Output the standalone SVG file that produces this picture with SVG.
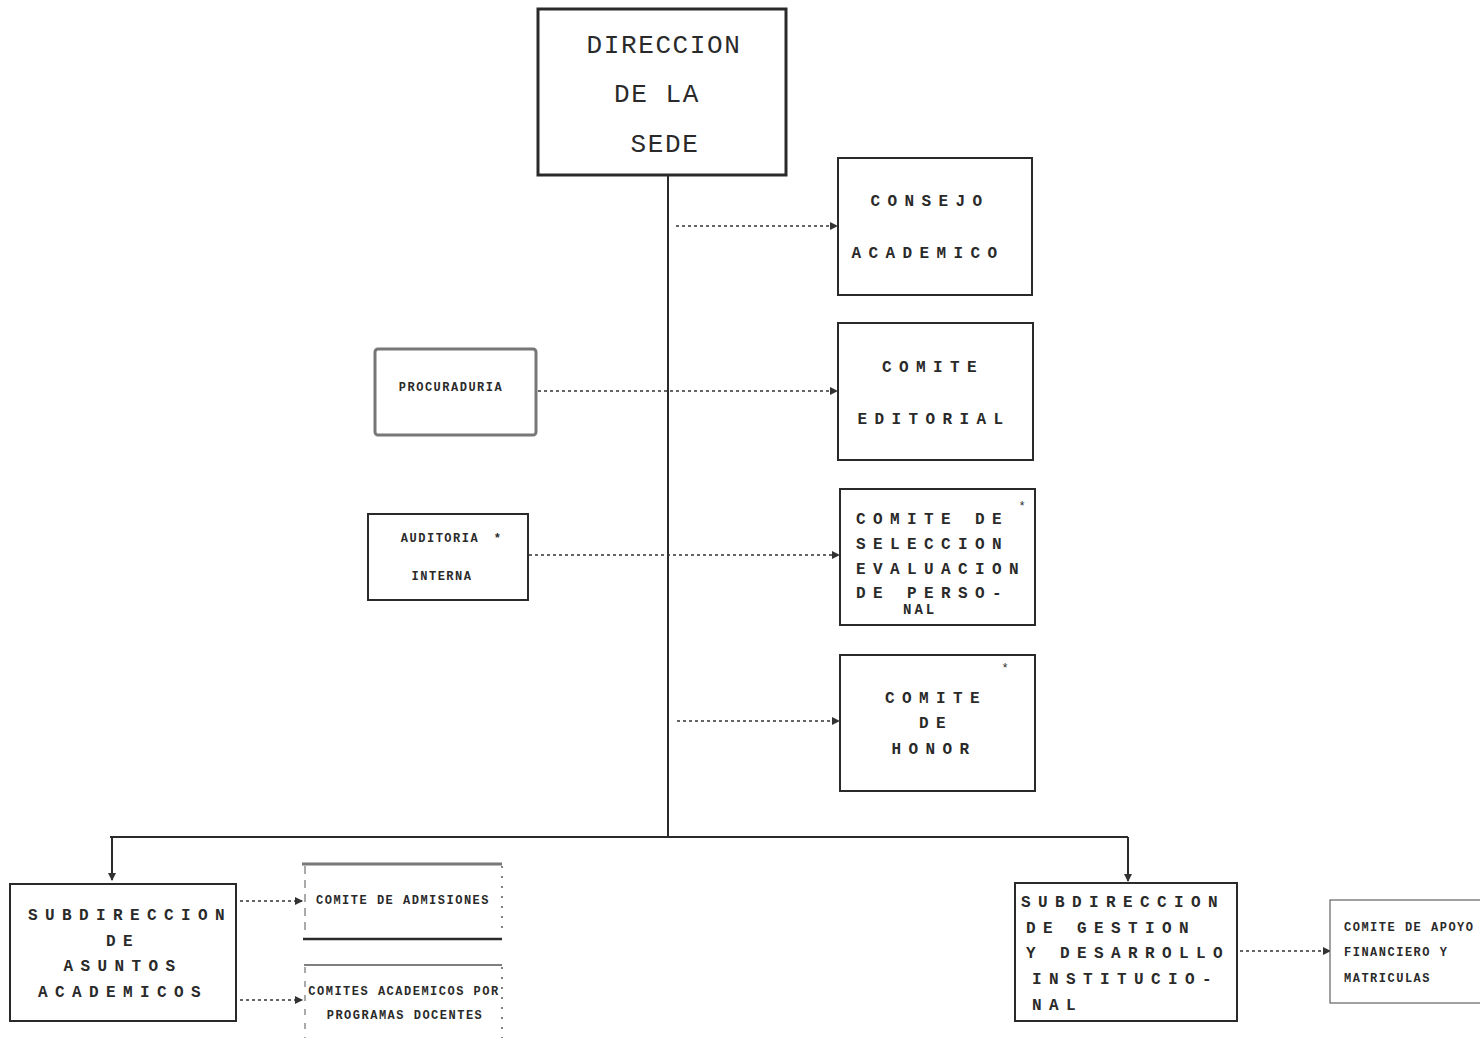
<svg xmlns="http://www.w3.org/2000/svg" width="1480" height="1038" viewBox="0 0 1480 1038">
<defs>
<marker id="ah" markerWidth="8" markerHeight="8" refX="7" refY="4" orient="auto" markerUnits="userSpaceOnUse">
<path d="M0,0 L8,4 L0,8 Z" fill="#333"/>
</marker>
<style>
.box{fill:#fff;stroke:#2a2a2a;stroke-width:2}
.thick{stroke-width:3}
.t{font-family:"Liberation Mono","DejaVu Sans Mono",monospace;fill:#2a2a2a;text-anchor:middle}
.s{text-anchor:start}
.big{font-size:26px;letter-spacing:1.6px}
.sp{font-size:16px;letter-spacing:7.4px;font-weight:bold}
.sm{font-size:12px;font-weight:bold;letter-spacing:1.5px}
.dot{stroke:#333;stroke-width:1.5;stroke-dasharray:3,3;fill:none}
.solid{stroke:#2a2a2a;stroke-width:2;fill:none}
</style>
</defs>
<rect width="1480" height="1038" fill="#fff"/>

<g id="connectors">
<line class="solid" x1="668" y1="175" x2="668" y2="837"/>
<line class="solid" x1="110" y1="837" x2="1128" y2="837" stroke-width="3.5"/>
<line class="solid" x1="112" y1="837" x2="112" y2="880" marker-end="url(#ah)"/>
<line class="solid" x1="1128" y1="837" x2="1128" y2="881" marker-end="url(#ah)"/>
<line class="dot" x1="676" y1="226" x2="837" y2="226" marker-end="url(#ah)"/>
<line class="dot" x1="538" y1="391" x2="837" y2="391" marker-end="url(#ah)"/>
<line class="dot" x1="529" y1="555" x2="839" y2="555" marker-end="url(#ah)"/>
<line class="dot" x1="677" y1="721" x2="839" y2="721" marker-end="url(#ah)"/>
<line class="dot" x1="240" y1="901" x2="302" y2="901" marker-end="url(#ah)"/>
<line class="dot" x1="240" y1="1000" x2="302" y2="1000" marker-end="url(#ah)"/>
<line class="dot" x1="1240" y1="951" x2="1330" y2="951" marker-end="url(#ah)"/>
</g>

<g id="direccion">
<rect class="box thick" x="538" y="9" width="248" height="166"/>
<text class="t big" x="664" y="53">DIRECCION</text>
<text class="t big" x="657" y="102">DE LA</text>
<text class="t big" x="665" y="152">SEDE</text>
</g>

<g id="consejo">
<rect class="box" x="838" y="158" width="194" height="137"/>
<text class="t sp" x="930" y="206">CONSEJO</text>
<text class="t sp" x="928" y="258">ACADEMICO</text>
</g>

<g id="editorial">
<rect class="box" x="838" y="323" width="195" height="137"/>
<text class="t sp" x="933" y="372">COMITE</text>
<text class="t sp" x="934" y="424">EDITORIAL</text>
</g>

<g id="procuraduria">
<rect x="375" y="349" width="161" height="86" rx="3" fill="#fff" stroke="#777" stroke-width="3"/>
<text class="t sm" x="451" y="391">PROCURADURIA</text>
</g>

<g id="auditoria">
<rect class="box" x="368" y="514" width="160" height="86"/>
<text class="t sm" x="440" y="542">AUDITORIA</text>
<text class="t sm" x="498" y="542">*</text>
<text class="t sm" x="442" y="580">INTERNA</text>
</g>

<g id="seleccion">
<rect class="box" x="840" y="489" width="195" height="136"/>
<text class="t sp s" x="856" y="524">COMITE DE</text>
<text class="t sp s" x="856" y="549">SELECCION</text>
<text class="t sp s" x="856" y="574">EVALUACION</text>
<text class="t sp s" x="856" y="598">DE PERSO-</text>
<text class="t s" x="903" y="614" font-size="14" letter-spacing="3" font-weight="bold">NAL</text>
<text class="t" x="1022" y="510" font-size="12">*</text>
</g>

<g id="honor">
<rect class="box" x="840" y="655" width="195" height="136"/>
<text class="t sp" x="936" y="703">COMITE</text>
<text class="t sp" x="936" y="728">DE</text>
<text class="t sp" x="934" y="754">HONOR</text>
<text class="t" x="1005" y="672" font-size="12">*</text>
</g>

<g id="sub-asuntos">
<rect class="box" x="10" y="884" width="226" height="137"/>
<text class="t sp s" x="28" y="920">SUBDIRECCION</text>
<text class="t sp" x="123" y="946">DE</text>
<text class="t sp" x="123" y="971">ASUNTOS</text>
<text class="t sp" x="123" y="997">ACADEMICOS</text>
</g>

<g id="admisiones">
<line x1="302" y1="864" x2="502" y2="864" stroke="#777" stroke-width="3"/>
<line x1="303" y1="939" x2="502" y2="939" stroke="#2a2a2a" stroke-width="2.5"/>
<line x1="305" y1="866" x2="305" y2="930" stroke="#555" stroke-width="1" stroke-dasharray="8,6"/>
<line x1="502" y1="866" x2="502" y2="935" stroke="#555" stroke-width="1.5" stroke-dasharray="2,8"/>
<text class="t sm" x="403" y="904">COMITE DE ADMISIONES</text>
</g>

<g id="comites-academicos">
<line x1="304" y1="965" x2="502" y2="965" stroke="#555" stroke-width="1.5"/>
<line x1="305" y1="967" x2="305" y2="1038" stroke="#555" stroke-width="1" stroke-dasharray="6,8"/>
<line x1="502" y1="967" x2="502" y2="1038" stroke="#555" stroke-width="1.5" stroke-dasharray="2,8"/>
<text class="t sm" x="404" y="995" letter-spacing="1.2">COMITES ACADEMICOS POR</text>
<text class="t sm" x="405" y="1019">PROGRAMAS DOCENTES</text>
</g>

<g id="sub-gestion">
<rect class="box" x="1015" y="883" width="222" height="138"/>
<text class="t sp s" x="1021" y="907">SUBDIRECCION</text>
<text class="t sp s" x="1026" y="933">DE GESTION</text>
<text class="t sp s" x="1026" y="958">Y DESARROLLO</text>
<text class="t sp s" x="1032" y="984">INSTITUCIO-</text>
<text class="t sp s" x="1032" y="1010">NAL</text>
</g>

<g id="apoyo">
<rect x="1330" y="900" width="160" height="103" fill="#fff" stroke="#444" stroke-width="1"/>
<text class="t sm s" x="1344" y="931" letter-spacing="0.3">COMITE DE APOYO</text>
<text class="t sm s" x="1344" y="956" letter-spacing="0.3">FINANCIERO Y</text>
<text class="t sm s" x="1344" y="982" letter-spacing="0.3">MATRICULAS</text>
</g>
</svg>
